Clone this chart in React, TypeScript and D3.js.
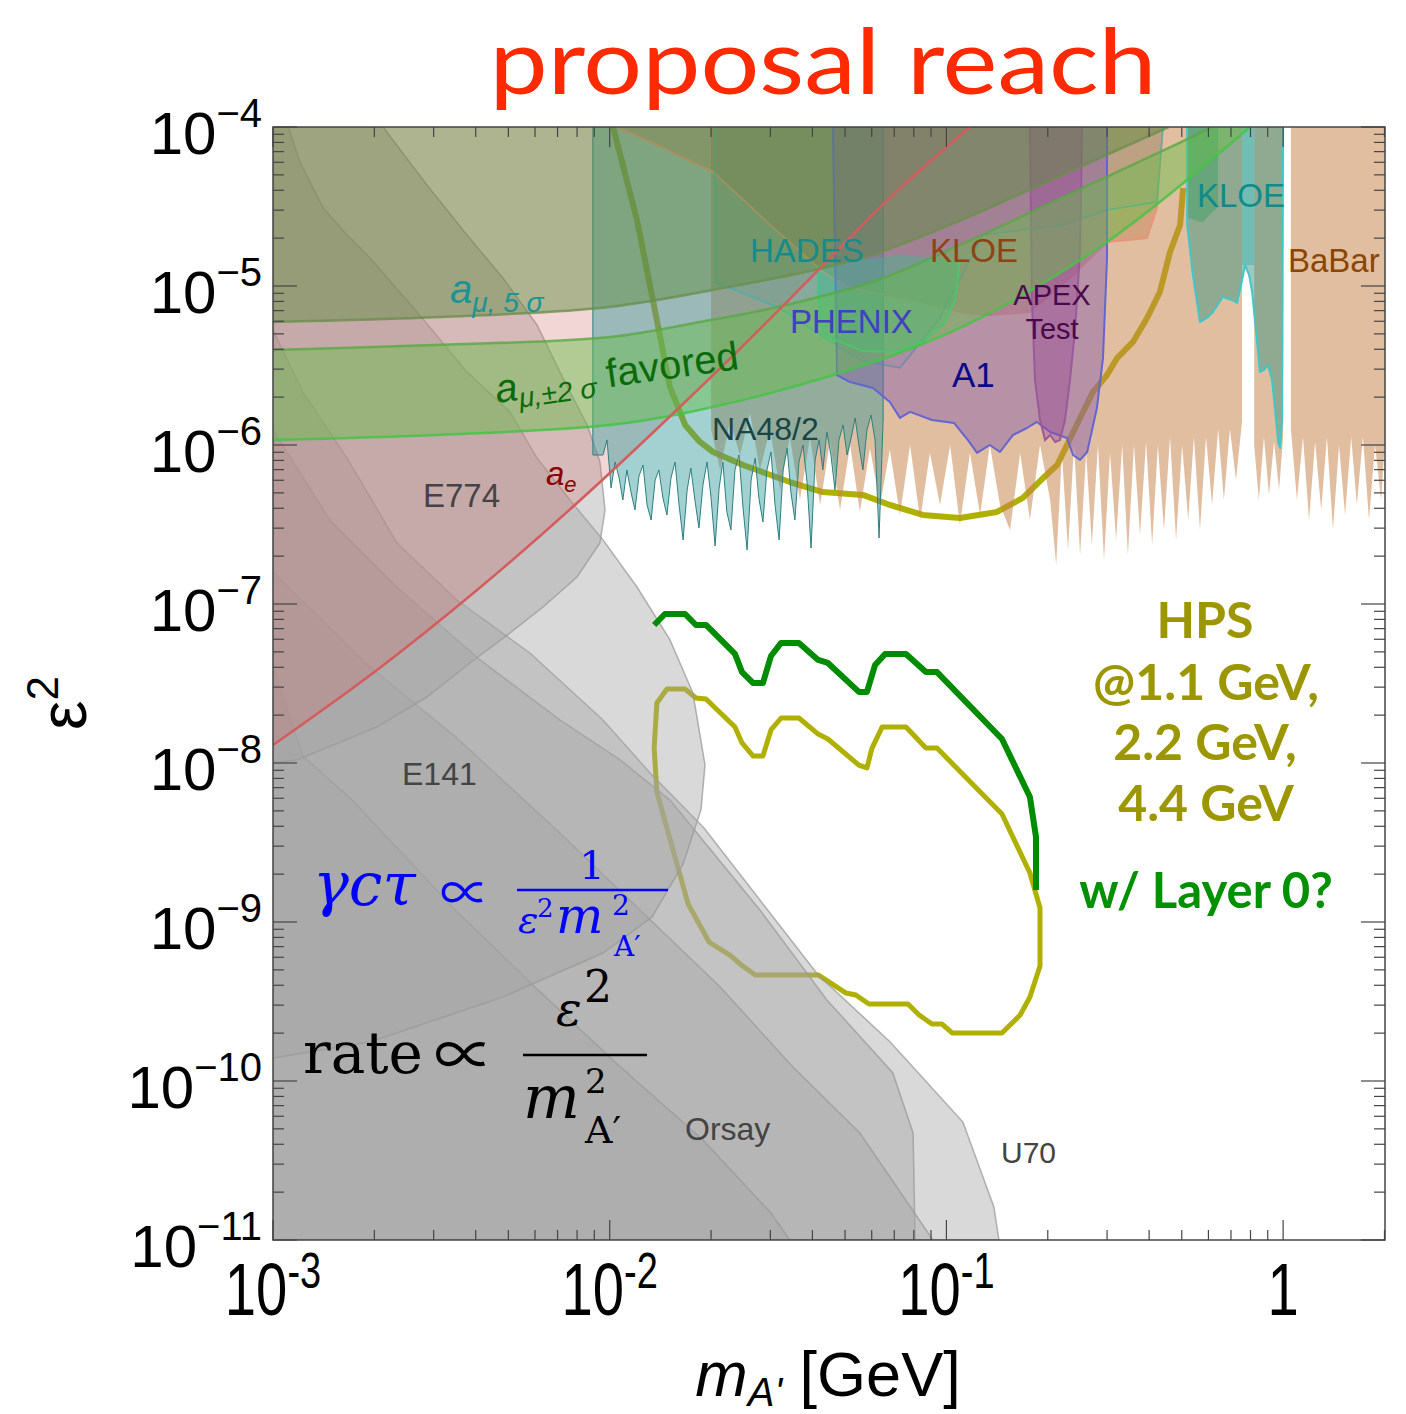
import React from 'react';
import * as d3 from 'd3';

// every point is [log10(m / GeV), log10(eps^2)]

type P = [number, number];

// beam dump regions (gray)
const e774: P[] = [[-3, -4], [-2.673, -4], [-2.543, -4.365], [-2.424, -4.679], [-2.317, -4.95], [-2.216, -5.245], [-2.139, -5.579], [-2.067, -5.874], [-2.029, -6.107], [-2.014, -6.409], [-2.029, -6.616], [-2.097, -6.83], [-2.198, -7.019], [-2.296, -7.182], [-2.415, -7.371], [-2.543, -7.585], [-2.691, -7.773], [-2.929, -7.981], [-3, -8.0]];
const bulge: P[] = [[-3, -4], [-2.955, -4], [-2.92, -4.22], [-2.851, -4.509], [-2.78, -4.679], [-2.712, -4.824], [-2.572, -5.163], [-2.424, -5.541], [-2.296, -5.792], [-2.216, -6.082], [-2.118, -6.346], [-2.02, -6.597], [-1.919, -6.893], [-1.821, -7.226], [-1.753, -7.56], [-1.717, -8.012], [-1.729, -8.295], [-1.782, -8.635], [-1.874, -8.968], [-2.02, -9.195], [-2.317, -9.471], [-2.712, -9.755], [-3, -9.855]];
const u70: P[] = [[-3, -5.277], [-2.911, -5.667], [-2.78, -6.082], [-2.632, -6.616], [-2.454, -6.975], [-2.237, -7.308], [-2.02, -7.729], [-1.88, -8.063], [-1.72, -8.409], [-1.381, -9.333], [-1.167, -9.755], [-0.951, -10.258], [-0.859, -10.792], [-0.844, -11], [-3, -11]];
const e141: P[] = [[-3, -5.906], [-2.831, -6.472], [-2.623, -6.912], [-2.385, -7.352], [-2.148, -7.729], [-1.969, -7.981], [-1.821, -8.233], [-1.554, -8.924], [-1.355, -9.49], [-1.159, -9.949], [-1.099, -10.327], [-1.093, -11], [-3, -11]];
const orsay: P[] = [[-3, -6.799], [-2.712, -7.396], [-2.454, -7.843], [-2.148, -8.44], [-1.91, -8.924], [-1.672, -9.409], [-1.456, -9.912], [-1.257, -10.327], [-1.04, -11], [-3, -11]];
const e137: P[] = [[-3, -7.396], [-2.911, -7.956], [-2.762, -8.239], [-2.465, -8.912], [-2.216, -9.421], [-1.978, -9.893], [-1.723, -10.371], [-1.524, -10.824], [-1.465, -11], [-3, -11]];

// g-2 curves
const aeLine: P[] = [[-3, -7.887], [-2.691, -7.415], [-2.394, -6.912], [-2.097, -6.365], [-1.77, -5.717], [-1.503, -5.163], [-1.366, -4.868], [-1.15, -4.41], [-0.93, -4]];
const amu5s: P[] = [[-3, -5.226], [-2.5, -5.195], [-2, -5.132], [-1.663, -5.013], [-1.366, -4.887], [-1.2, -4.79], [-0.96, -4.59], [-0.8, -4.44], [-0.55, -4.2], [-0.34, -4]];
const amuUp: P[] = [[-3, -5.402], [-2.5, -5.37], [-1.999, -5.321], [-1.732, -5.226], [-1.515, -5.138], [-1.203, -4.962], [-0.96, -4.742], [-0.671, -4.459], [-0.354, -4.145], [-0.21, -4]];
const amuLow: P[] = [[-3, -5.968], [-2.5, -5.935], [-1.999, -5.874], [-1.762, -5.792], [-1.366, -5.579], [-0.96, -5.264], [-0.523, -4.723], [-0.098, -4]];

// fixed-target and collider limits
const na48Edge: P[] = [[-2.02, -6.063], [-2.008, -5.968], [-1.996, -6.27], [-1.984, -6.107], [-1.972, -6.207], [-1.961, -6.346], [-1.949, -6.157], [-1.937, -6.295], [-1.925, -6.409], [-1.913, -6.195], [-1.901, -6.126], [-1.889, -6.377], [-1.877, -6.472], [-1.865, -6.22], [-1.854, -6.157], [-1.842, -6.333], [-1.83, -6.44], [-1.818, -6.207], [-1.806, -6.107], [-1.794, -6.377], [-1.782, -6.597], [-1.77, -6.283], [-1.759, -6.145], [-1.747, -6.346], [-1.735, -6.522], [-1.723, -6.251], [-1.711, -6.107], [-1.699, -6.333], [-1.687, -6.635], [-1.675, -6.27], [-1.664, -6.107], [-1.652, -6.421], [-1.64, -6.534], [-1.628, -6.157], [-1.616, -6.063], [-1.604, -6.396], [-1.592, -6.66], [-1.58, -6.22], [-1.568, -6.082], [-1.557, -6.333], [-1.545, -6.484], [-1.533, -6.157], [-1.521, -6.044], [-1.509, -6.377], [-1.497, -6.597], [-1.485, -6.157], [-1.473, -6.019], [-1.462, -6.295], [-1.45, -6.472], [-1.438, -6.107], [-1.426, -6.0], [-1.414, -6.233], [-1.402, -6.648], [-1.39, -6.094], [-1.378, -5.968], [-1.367, -6.157], [-1.355, -5.918], [-1.343, -6.063], [-1.331, -6.283], [-1.319, -5.968], [-1.307, -5.874], [-1.295, -6.063], [-1.283, -5.956], [-1.271, -5.83], [-1.26, -6.0], [-1.248, -6.157], [-1.236, -5.906], [-1.224, -5.811], [-1.212, -5.968], [-1.2, -6.585], [-1.188, -5.843]];
const babarEdge1: P[] = [[-1.699, -5.9], [-1.672, -6.157], [-1.643, -5.85], [-1.613, -6.063], [-1.583, -5.8], [-1.554, -6.157], [-1.524, -5.9], [-1.494, -6.283], [-1.465, -5.95], [-1.435, -6.346], [-1.405, -5.95], [-1.375, -6.377], [-1.346, -5.98], [-1.316, -6.409], [-1.286, -6.0], [-1.257, -6.421], [-1.227, -6.02], [-1.197, -6.377], [-1.168, -6.03], [-1.138, -6.44], [-1.108, -6.0], [-1.078, -6.472], [-1.049, -6.05], [-1.019, -6.377], [-0.989, -6.0], [-0.96, -6.503], [-0.93, -6.05], [-0.9, -6.44], [-0.871, -6.0], [-0.841, -6.377], [-0.811, -6.535], [-0.781, -6.05], [-0.752, -6.472], [-0.722, -6.0], [-0.692, -6.346], [-0.674, -6.755], [-0.657, -6.05], [-0.639, -6.66], [-0.621, -6.0], [-0.603, -6.692], [-0.585, -6.05], [-0.568, -6.629], [-0.55, -6.0], [-0.532, -6.723], [-0.514, -6.05], [-0.496, -6.597], [-0.478, -6.0], [-0.461, -6.692], [-0.443, -6.0], [-0.425, -6.566], [-0.407, -5.98], [-0.389, -6.629], [-0.372, -6.0], [-0.354, -6.535], [-0.336, -5.95], [-0.318, -6.597], [-0.3, -6.0], [-0.282, -6.472], [-0.265, -5.95], [-0.247, -6.535], [-0.229, -5.95], [-0.211, -6.377], [-0.193, -5.9], [-0.176, -6.346], [-0.158, -5.9], [-0.14, -6.22], [-0.122, -5.85]];
const babarEdge2: P[] = [[-0.086, -6.0], [-0.072, -6.346], [-0.057, -5.95], [-0.042, -6.314], [-0.027, -5.98], [-0.012, -6.283], [0, -5.95]];
const babarEdge3: P[] = [[0.023, -5.9], [0.041, -6.346], [0.059, -5.95], [0.077, -6.472], [0.095, -5.98], [0.113, -6.409], [0.13, -5.95], [0.148, -6.535], [0.166, -6.0], [0.184, -6.44], [0.202, -5.95], [0.219, -6.377], [0.237, -5.95], [0.255, -6.472], [0.273, -6.0], [0.291, -6.346], [0.303, -5.95]];
const kloeBrown: P[] = [[-1.978, -4], [-1.86, -4.113], [-1.693, -4.283], [-1.533, -4.597], [-1.367, -4.912], [-1.286, -5.013], [-1.07, -5.101], [-0.96, -5.164], [-0.871, -5.182], [-0.752, -5.164], [-0.624, -4.931], [-0.523, -4.723], [-0.404, -4.698], [-0.375, -4.509], [-0.357, -4]];
const hades: P[] = [[-1.687, -4], [-1.687, -4.975], [-1.503, -5.132], [-1.375, -5.308], [-1.257, -5.465], [-1.138, -5.516], [-1.019, -5.201], [-0.891, -4.679], [-0.654, -4.616], [-0.523, -4.522], [-0.375, -4.472], [-0.357, -4]];
const phenixTop: P[] = [[-0.96, -4.836], [-1.138, -4.805], [-1.381, -4.868]];
const phenixEdge: P[] = [[-1.381, -4.868], [-1.381, -5.088], [-1.367, -5.308], [-1.248, -5.409], [-1.147, -5.415], [-1.07, -5.352], [-1.01, -5.245], [-0.974, -5.088], [-0.96, -4.836]];
const a1: P[] = [[-1.337, -4], [-1.325, -5.56], [-1.286, -5.604], [-1.218, -5.642], [-1.168, -5.73], [-1.138, -5.83], [-1.108, -5.792], [-1.043, -5.843], [-0.977, -5.862], [-0.936, -5.969], [-0.909, -6.05], [-0.871, -6.0], [-0.841, -6.044], [-0.802, -5.937], [-0.761, -5.893], [-0.731, -5.855], [-0.692, -5.918], [-0.642, -5.956], [-0.624, -6.063], [-0.603, -6.094], [-0.582, -6.044], [-0.553, -5.767], [-0.535, -5.453], [-0.523, -4.824], [-0.523, -4]];
const apex: P[] = [[-0.752, -4], [-0.746, -5.088], [-0.737, -5.591], [-0.722, -5.843], [-0.707, -5.969], [-0.692, -5.937], [-0.677, -5.981], [-0.663, -5.969], [-0.648, -5.843], [-0.633, -5.591], [-0.618, -5.277], [-0.603, -4.774], [-0.597, -4]];
const kloeTeal: P[] = [[-0.285, -4], [-0.285, -4.616], [-0.268, -4.931], [-0.247, -5.226], [-0.226, -5.201], [-0.208, -5.164], [-0.179, -5.069], [-0.152, -5.088], [-0.137, -5.107], [-0.125, -4.994], [-0.113, -4.868], [-0.101, -4.931], [-0.092, -5.038], [-0.078, -5.34], [-0.069, -5.541], [-0.057, -5.528], [-0.045, -5.497], [-0.033, -5.591], [-0.024, -5.78], [-0.015, -5.981], [-0.009, -6.019], [-0.003, -5.843], [0, -4]];
const kloeStrip: P[] = [[-0.122, -4], [-0.122, -4.868], [-0.086, -4.868], [-0.086, -4]];
const greenPatch: P[] = [[-0.285, -4], [-0.285, -4.57], [-0.24, -4.6], [-0.193, -4.5], [-0.193, -4]];

// HPS reach
const hpsUpper: P[] = [[-1.99, -4], [-1.919, -4.585], [-1.86, -5.214], [-1.821, -5.635], [-1.776, -5.874], [-1.732, -5.981], [-1.693, -6.044], [-1.604, -6.126], [-1.465, -6.233], [-1.367, -6.296], [-1.248, -6.314], [-1.168, -6.377], [-1.07, -6.44], [-0.96, -6.459], [-0.85, -6.421], [-0.773, -6.333], [-0.713, -6.208], [-0.671, -6.126], [-0.642, -6.0], [-0.603, -5.83], [-0.565, -5.667], [-0.523, -5.56], [-0.493, -5.453], [-0.446, -5.352], [-0.404, -5.201], [-0.366, -5.038], [-0.336, -4.786], [-0.306, -4.616], [-0.297, -4.384]];
const hpsLoop: P[] = [[-1.86, -7.623], [-1.83, -7.535], [-1.776, -7.535], [-1.744, -7.591], [-1.714, -7.597], [-1.628, -7.774], [-1.607, -7.874], [-1.574, -7.956], [-1.545, -7.956], [-1.521, -7.792], [-1.491, -7.717], [-1.438, -7.717], [-1.381, -7.818], [-1.352, -7.849], [-1.26, -8.013], [-1.236, -8.031], [-1.221, -7.906], [-1.191, -7.774], [-1.12, -7.774], [-1.061, -7.906], [-1.028, -7.906], [-0.835, -8.321], [-0.752, -8.692], [-0.722, -8.912], [-0.722, -9.277], [-0.752, -9.472], [-0.781, -9.585], [-0.835, -9.698], [-0.983, -9.698], [-1.013, -9.642], [-1.043, -9.642], [-1.081, -9.585], [-1.114, -9.516], [-1.23, -9.516], [-1.269, -9.459], [-1.298, -9.447], [-1.381, -9.333], [-1.568, -9.333], [-1.613, -9.264], [-1.643, -9.208], [-1.705, -9.126], [-1.767, -8.887], [-1.812, -8.547], [-1.86, -8.182], [-1.868, -7.906]];
const hpsLayer0: P[] = [[-1.868, -7.132], [-1.836, -7.063], [-1.776, -7.063], [-1.744, -7.132], [-1.714, -7.132], [-1.628, -7.314], [-1.607, -7.428], [-1.574, -7.497], [-1.545, -7.497], [-1.521, -7.327], [-1.491, -7.245], [-1.438, -7.245], [-1.381, -7.352], [-1.352, -7.371], [-1.26, -7.553], [-1.236, -7.553], [-1.212, -7.384], [-1.182, -7.314], [-1.12, -7.314], [-1.061, -7.428], [-1.028, -7.428], [-0.835, -7.849], [-0.752, -8.214], [-0.734, -8.465], [-0.734, -8.799]];

const yExps = [-4, -5, -6, -7, -8, -9, -10, -11];
const xExps = [-3, -2, -1, 0];

const W = 1406;
const H = 1414;
const L = 273, R = 1385, T = 127, B = 1240;

const x = d3.scaleLog().domain([1e-3, 2.007]).range([L, R]);
const y = d3.scaleLog().domain([1e-11, 1e-4]).range([B, T]);
const px = (p: P) => x(Math.pow(10, p[0]));
const py = (p: P) => y(Math.pow(10, p[1]));
const lin = d3.line<P>().x(px).y(py);
const smooth = d3.line<P>().x(px).y(py).curve(d3.curveCatmullRom.alpha(0.5));
const poly = (pts: P[]) => lin(pts) + 'Z';
const corner = (p: P) => `L${px(p)},${py(p)}`;

const grayFill = { fill: '#a4a4a4', fillOpacity: 0.42, stroke: '#999', strokeWidth: 1.5, strokeOpacity: 0.75 };
const propFont = 'Noto Sans CJK JP, DejaVu Serif, serif';

function App() {
    const isMajor = (t: number) => Math.abs(Math.log10(t) - Math.round(Math.log10(t))) < 1e-6;
    const xt = x.ticks();
    const yt = y.ticks();

    const favoredPath = smooth(amuUp) + smooth(amuLow.slice().reverse())!.replace(/^M/, 'L') + 'Z';
    const amu5Path = smooth(amu5s) + corner([-3, -4]) + 'Z';
    const aePath = smooth(aeLine) + corner([-3, -4]) + 'Z';
    const na48 = [[-2.05, -4], [-2.05, -6.063], ...na48Edge, [-1.188, -4]] as P[];
    const babar1 = [[-1.699, -4], ...babarEdge1, [-0.122, -4]] as P[];
    const babar2 = [[-0.086, -4], ...babarEdge2, [0, -4]] as P[];
    const babar3 = [[0.023, -4], ...babarEdge3, [0.303, -4]] as P[];
    const phenix = [...phenixEdge, ...phenixTop] as P[];

    const label = { fontSize: 33 };

    return (
        <div style={{ position: 'absolute', left: 0, top: 0 }}>
            <svg width={W} height={H} style={{ display: 'block', background: '#fff' }} fontFamily="Liberation Sans, Arial, sans-serif">
                <defs>
                    <clipPath id="plotArea"><rect x={L} y={T} width={R - L} height={B - T} /></clipPath>
                </defs>

                <g clipPath="url(#plotArea)">
                    {/* HPS lines that sit under the shaded limits */}
                    <path d={lin(hpsLoop) + 'Z'} fill="none" stroke="#b0b000" strokeWidth={5} strokeLinejoin="round" />
                    <path d={lin(hpsUpper)!} fill="none" stroke="#b0b000" strokeWidth={6} strokeLinejoin="round" />

                    {/* beam dumps */}
                    <path d={poly(u70)} {...grayFill} />
                    <path d={poly(e141)} {...grayFill} />
                    <path d={poly(orsay)} {...grayFill} />
                    <path d={poly(e137)} {...grayFill} />
                    <path d={poly(bulge)} {...grayFill} />
                    <path d={poly(e774)} {...grayFill} />

                    {/* a_e */}
                    <path d={aePath} fill="#d06868" fillOpacity={0.28} />

                    {/* BaBar */}
                    <path d={poly(babar1)} fill="#c8824a" fillOpacity={0.52} />
                    <path d={poly(babar2)} fill="#c8824a" fillOpacity={0.52} />
                    <path d={poly(babar3)} fill="#c8824a" fillOpacity={0.52} />

                    {/* NA48/2 */}
                    <path d={poly(na48)} fill="#329696" fillOpacity={0.45} stroke="#2c8080" strokeWidth={1} strokeLinejoin="round" />

                    {/* KLOE (brown), HADES */}
                    <path d={poly(kloeBrown)} fill="#b4642f" fillOpacity={0.3} stroke="#e8967a" strokeWidth={2} />
                    <path d={poly(hades)} fill="#3ca0a0" fillOpacity={0.15} stroke="#40b0b0" strokeWidth={1.5} strokeOpacity={0.8} />

                    {/* A1, PHENIX, APEX */}
                    <path d={poly(a1)} fill="#825aaa" fillOpacity={0.45} stroke="#6464d2" strokeWidth={2} strokeLinejoin="round" />
                    <path d={poly(phenix)} fill="#32be8c" fillOpacity={0.4} />
                    <path d={lin(phenixEdge)!} fill="none" stroke="#3cc88c" strokeWidth={2} />
                    <path d={poly(apex)} fill="#964696" fillOpacity={0.4} stroke="#9a5a9a" strokeWidth={2} />

                    {/* KLOE (teal) */}
                    <path d={poly(greenPatch)} fill="#50b050" fillOpacity={0.55} />
                    <path d={poly(kloeStrip)} fill="#a6e4e4" />
                    <path d={poly(kloeTeal)} fill="#3c9682" fillOpacity={0.5} stroke="#40c8c8" strokeWidth={2} strokeLinejoin="round" />

                    {/* a_mu */}
                    <path d={amu5Path} fill="#5a8c3c" fillOpacity={0.45} />
                    <path d={favoredPath} fill="#64be46" fillOpacity={0.45} />
                    <path d={smooth(amu5s)!} fill="none" stroke="#6b8e4e" strokeWidth={2.5} strokeOpacity={0.8} />
                    <path d={smooth(amuUp)!} fill="none" stroke="#5aa845" strokeWidth={2.5} strokeOpacity={0.8} />
                    <path d={smooth(amuLow)!} fill="none" stroke="#44c444" strokeWidth={2.5} strokeOpacity={0.85} />

                    <path d={smooth(aeLine)!} fill="none" stroke="#d45c5c" strokeWidth={2.5} />

                    {/* HPS with Layer 0 */}
                    <path d={lin(hpsLayer0)!} fill="none" stroke="#008c00" strokeWidth={6} strokeLinejoin="round" />
                </g>

                {/* frame and ticks */}
                <rect x={L} y={T} width={R - L} height={B - T} fill="none" stroke="#444" strokeWidth={1.5} />
                {xt.map((t, i) => {
                    const len = isMajor(t) ? 20 : 10;
                    const xx = x(t);
                    return (
                        <g key={'xt' + i} stroke="#444" strokeWidth={1.2}>
                            <line x1={xx} x2={xx} y1={B} y2={B - len} />
                            <line x1={xx} x2={xx} y1={T} y2={T + len} />
                        </g>
                    );
                })}
                {yt.map((t, i) => {
                    const len = isMajor(t) ? 24 : 11;
                    const yy = y(t);
                    return (
                        <g key={'yt' + i} stroke="#444" strokeWidth={1.2}>
                            <line x1={L} x2={L + len} y1={yy} y2={yy} />
                            <line x1={R} x2={R - len} y1={yy} y2={yy} />
                        </g>
                    );
                })}

                {/* tick labels */}
                {yExps.map((k) => (
                    <text key={'yl' + k} x={262} y={y(Math.pow(10, k)) + 27} textAnchor="end" fontSize={60} fill="#000">
                        10<tspan fontSize={40} dy={-27}>{'\u2212' + Math.abs(k)}</tspan>
                    </text>
                ))}
                {xExps.map((k) => (
                    <g key={'xl' + k} transform={`translate(${x(Math.pow(10, k))},1315) scale(0.76,1)`}>
                        {k === 0 ? (
                            <text textAnchor="middle" fontSize={74} fill="#000">1</text>
                        ) : (
                            <text textAnchor="middle" fontSize={74} fill="#000">
                                10<tspan fontSize={50} dy={-27}>{'-' + Math.abs(k)}</tspan>
                            </text>
                        )}
                    </g>
                ))}

                {/* axis titles */}
                <text x={828} y={1396} textAnchor="middle" fontSize={63} fill="#000">
                    <tspan fontStyle="italic">m</tspan>
                    <tspan fontStyle="italic" fontSize={40} dy={10}>A'</tspan>
                    <tspan dy={-10}> [GeV]</tspan>
                </text>
                <text transform="translate(86,730) rotate(-90)" fontSize={66} fill="#000">
                    ε<tspan fontSize={44} dy={-28}>2</tspan>
                </text>

                {/* title */}
                <text x={823} y={94} textAnchor="middle" fontFamily="Lato, sans-serif" fontSize={92} fill="#ff2a00" textLength={667} lengthAdjust="spacingAndGlyphs">proposal reach</text>

                {/* region labels */}
                <text x={750} y={262} {...label} fill="#168b8b">HADES</text>
                <text x={930} y={262} {...label} fill="#8b4513">KLOE</text>
                <text x={1197} y={207} {...label} fill="#108a8a">KLOE</text>
                <text x={1288} y={272} {...label} fill="#8b4500">BaBar</text>
                <text x={790} y={333} {...label} fill="#4040c0">PHENIX</text>
                <text x={1052} y={305} fontSize={29} fill="#4a0a4a" textAnchor="middle">APEX</text>
                <text x={1052} y={339} fontSize={29} fill="#4a0a4a" textAnchor="middle">Test</text>
                <text x={952} y={387} fontSize={35} fill="#0a0a8a">A1</text>
                <text x={712} y={440} fontSize={32} fill="#1a4545">NA48/2</text>
                <text x={423} y={507} {...label} fill="#444">E774</text>
                <text x={402} y={785} fontSize={32} fill="#444">E141</text>
                <text x={685} y={1140} fontSize={32} fill="#444">Orsay</text>
                <text x={1001} y={1163} fontSize={30} fill="#444">U70</text>

                <text x={546} y={485} fill="#8b0000" fontStyle="italic" fontSize={33}>a<tspan fontSize={22} dy={7}>e</tspan></text>
                <text x={450} y={303} fill="#1a9494" fontStyle="italic" fontSize={40}>a<tspan fontSize={28} dy={9}>μ, 5 σ</tspan></text>
                <g transform="rotate(-8,497,403)">
                    <text x={497} y={403} fill="#0b6b0b" fontSize={40}>
                        <tspan fontStyle="italic">a</tspan>
                        <tspan fontStyle="italic" fontSize={28} dy={8}>μ,±2 σ</tspan>
                        <tspan dy={-8}> favored</tspan>
                    </text>
                </g>

                {/* HPS labels */}
                <g fontFamily="Lato, sans-serif" fontWeight={700} textAnchor="middle" fontSize={50} fill="#9c9600">
                    <text x={1205} y={638}>HPS</text>
                    <text x={1206} y={700}>@1.1 GeV,</text>
                    <text x={1205} y={760}>2.2 GeV,</text>
                    <text x={1206} y={821}>4.4 GeV</text>
                    <text x={1206} y={908} fill="#009000" fontSize={49}>w/ Layer 0?</text>
                </g>

                {/* formulas */}
                <g fontFamily="DejaVu Serif, Liberation Serif, serif" fill="#0000ff">
                    <text x={313} y={905} fontSize={60} fontStyle="italic">γcτ</text>
                    <text x={440} y={911} fontSize={50} fontFamily={propFont}>∝</text>
                    <line x1={517} x2={668} y1={890} y2={890} stroke="#0000ff" strokeWidth={2.5} />
                    <text x={592} y={879} fontSize={40} textAnchor="middle">1</text>
                    <text x={518} y={933} fontSize={38} fontStyle="italic">ε</text>
                    <text x={537} y={917} fontSize={26}>2</text>
                    <text x={556} y={933} fontSize={50} fontStyle="italic">m</text>
                    <text x={612} y={915} fontSize={28}>2</text>
                    <text x={614} y={956} fontSize={28}>A′</text>
                </g>
                <g fontFamily="DejaVu Serif, Liberation Serif, serif" fill="#000">
                    <text x={303} y={1073} fontSize={58}>rate</text>
                    <text x={434} y={1077} fontSize={60} fontFamily={propFont}>∝</text>
                    <line x1={523} x2={647} y1={1055} y2={1055} stroke="#000" strokeWidth={2.5} />
                    <text x={556} y={1026} fontSize={48} fontStyle="italic">ε</text>
                    <text x={584} y={1002} fontSize={44}>2</text>
                    <text x={523} y={1118} fontSize={60} fontStyle="italic">m</text>
                    <text x={585} y={1093} fontSize={34}>2</text>
                    <text x={585} y={1143} fontSize={38}>A′</text>
                </g>
            </svg>
        </div>
    );
}

export default App;
